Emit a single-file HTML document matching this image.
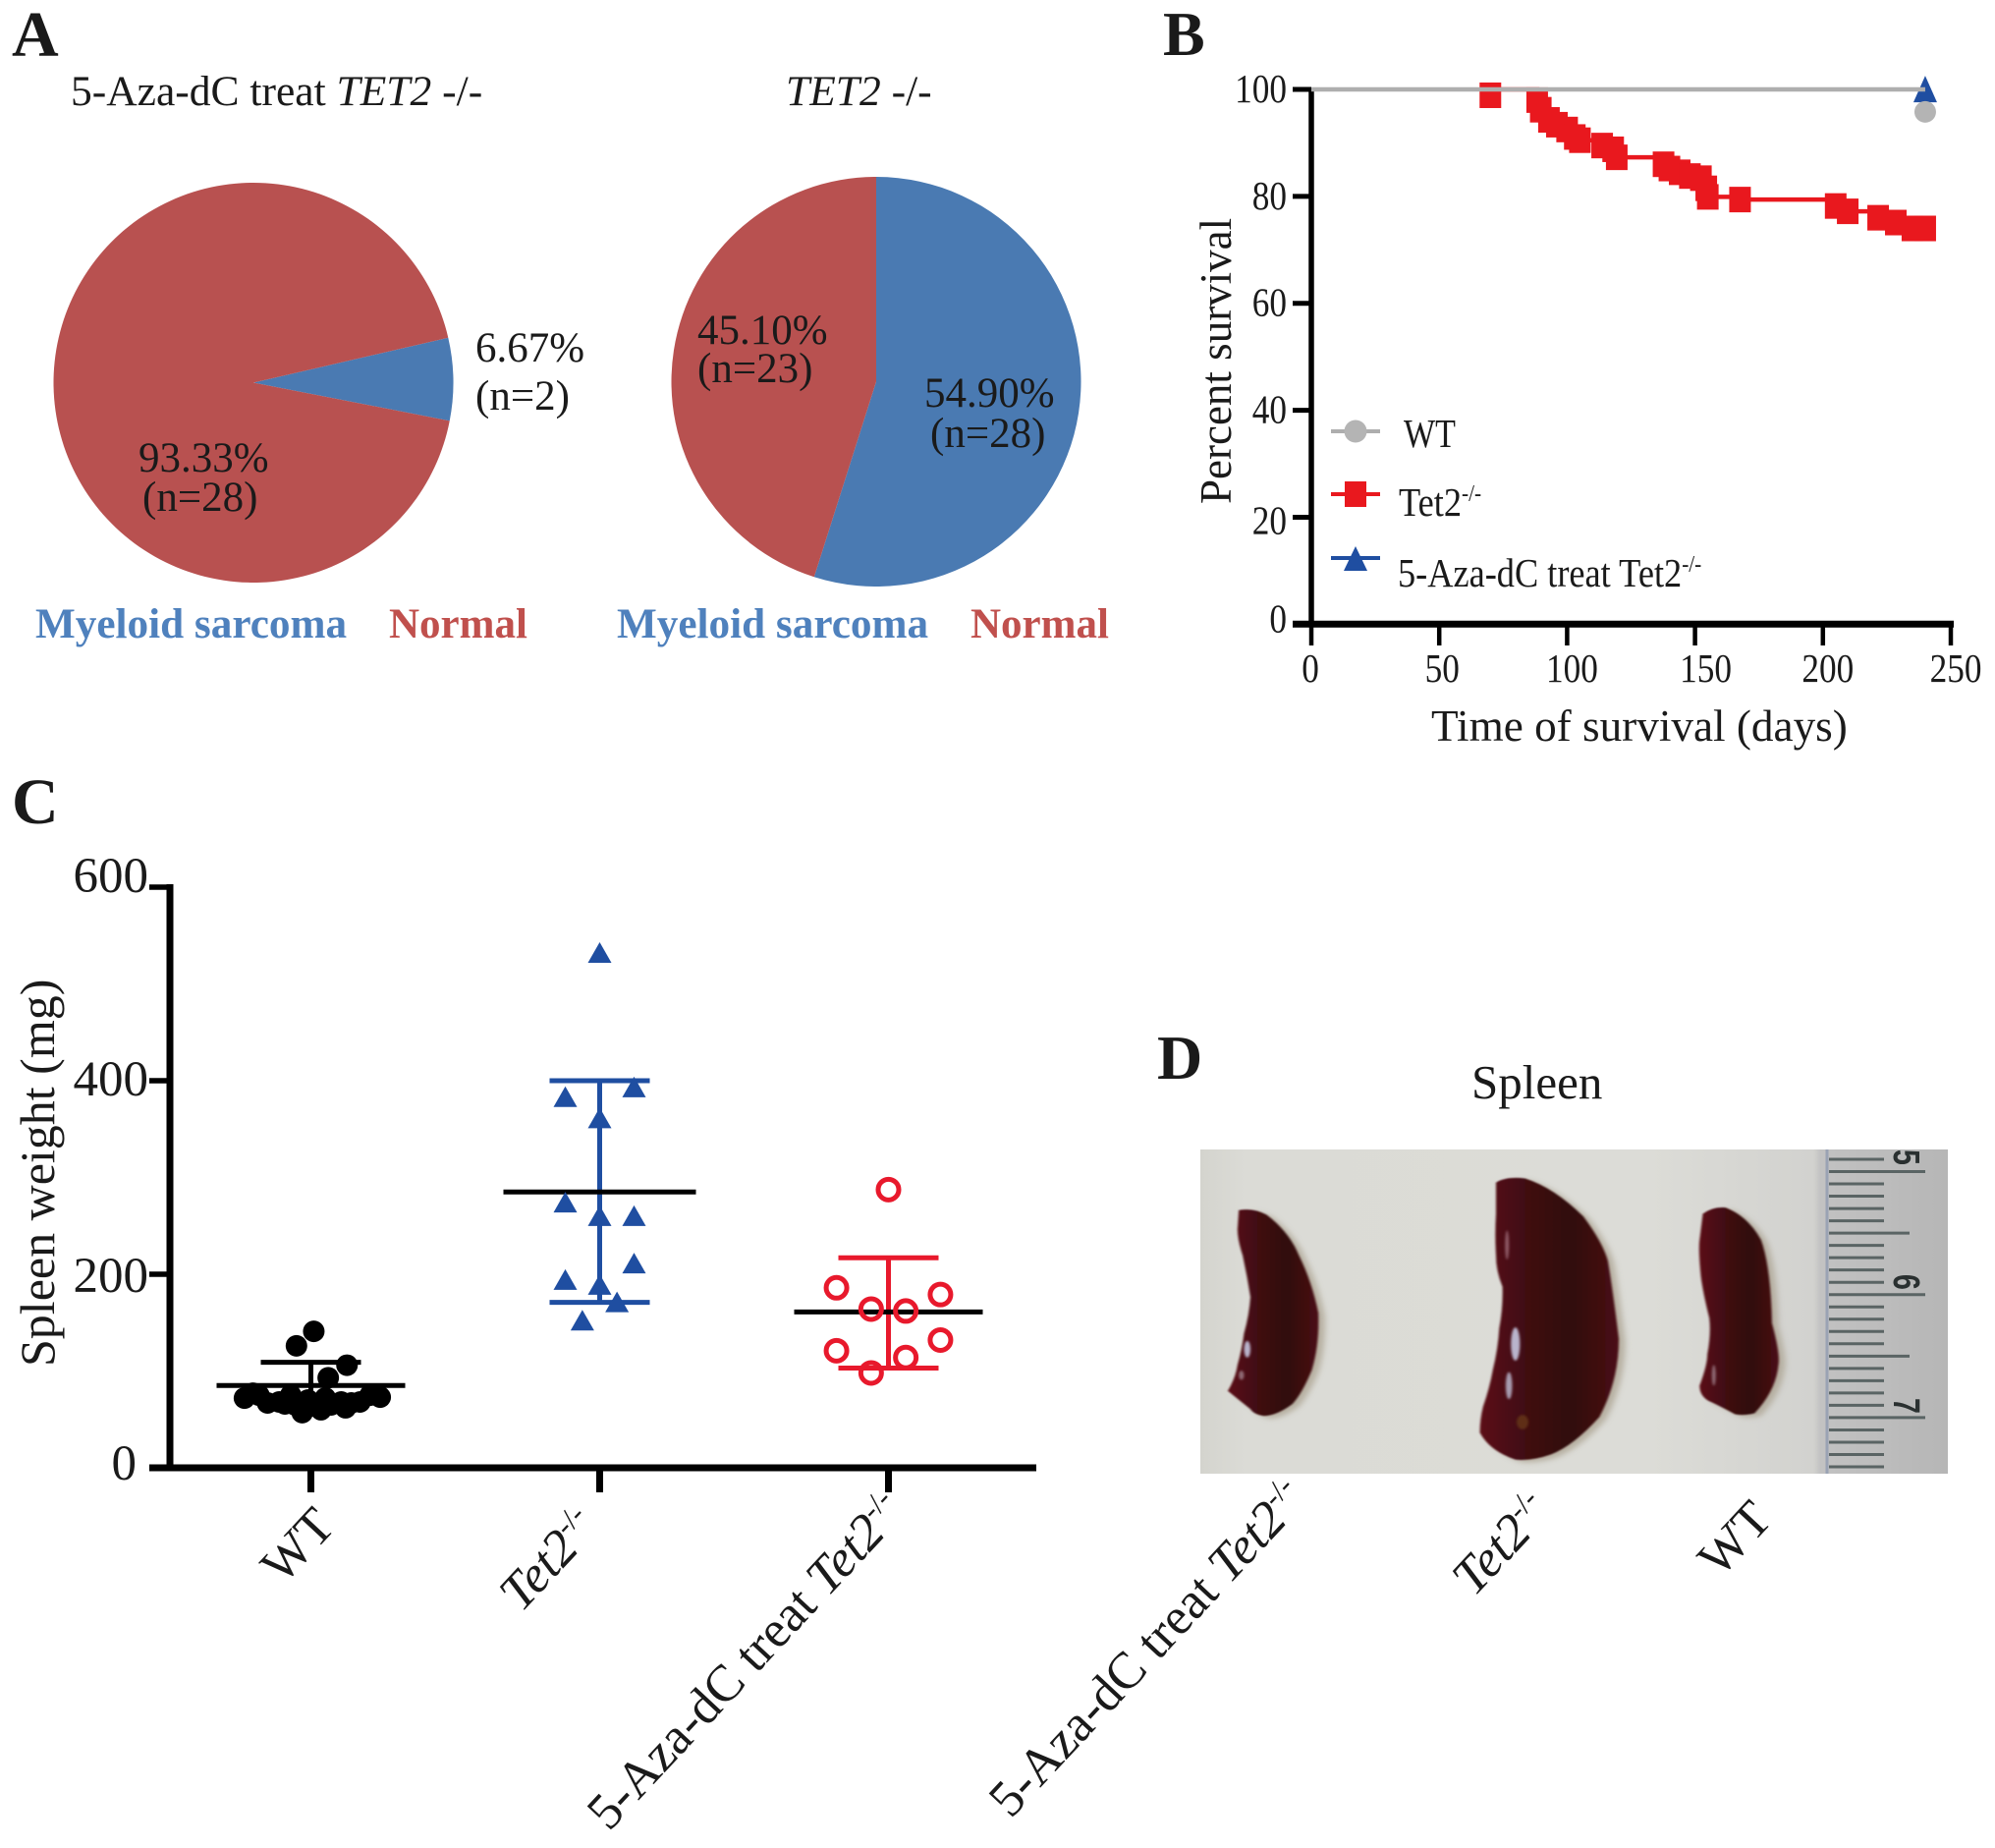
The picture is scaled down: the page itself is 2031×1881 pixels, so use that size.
<!DOCTYPE html>
<html>
<head>
<meta charset="utf-8">
<title>Multi-panel figure</title>
<style>
html,body{margin:0;padding:0;background:#fff;}
svg{display:block;}
text{font-family:"Liberation Serif",serif;fill:#1a1a1a;}
</style>
</head>
<body>
<svg id="figure" xmlns="http://www.w3.org/2000/svg" width="2031" height="1881" viewBox="0 0 2031 1881">
<defs>
<linearGradient id="photoBg" x1="0" y1="0" x2="1" y2="0">
<stop offset="0" stop-color="#d4d4ce"/>
<stop offset="0.06" stop-color="#dbdbd6"/>
<stop offset="0.6" stop-color="#dcdcd7"/>
<stop offset="0.82" stop-color="#d2d2cf"/>
<stop offset="0.83" stop-color="#c2c2c2"/>
<stop offset="1" stop-color="#b6b6b6"/>
</linearGradient>
<linearGradient id="organ" x1="0" y1="0" x2="1" y2="0">
<stop offset="0" stop-color="#5c1019"/>
<stop offset="0.3" stop-color="#420b12"/>
<stop offset="0.65" stop-color="#30070b"/>
<stop offset="1" stop-color="#4a0e14"/>
</linearGradient>
<filter id="soft" x="-20%" y="-20%" width="140%" height="140%"><feGaussianBlur stdDeviation="5"/></filter>
<filter id="edge" x="-10%" y="-10%" width="120%" height="120%"><feGaussianBlur stdDeviation="1.5"/></filter>
<filter id="softer" x="-50%" y="-50%" width="200%" height="200%"><feGaussianBlur stdDeviation="2"/></filter>
</defs>
<rect x="0" y="0" width="2031" height="1881" fill="#ffffff"/>

<!-- panel letters -->
<text x="12" y="57" font-size="66" font-weight="bold" fill="#000">A</text>
<text x="1184" y="56" font-size="64" font-weight="bold" fill="#000">B</text>
<text x="12" y="838" font-size="66" font-weight="bold" fill="#000">C</text>
<text x="1178" y="1098" font-size="64" font-weight="bold" fill="#000">D</text>

<!-- panel A -->
<g id="pies"></g>
<text x="72" y="107" font-size="43.5">5-Aza-dC treat <tspan font-style="italic">TET2</tspan> -/-</text>
<text x="800" y="107" font-size="43.5"><tspan font-style="italic">TET2</tspan> -/-</text>
<text x="141" y="480" font-size="43">93.33%</text>
<text x="145" y="520" font-size="43">(n=28)</text>
<text x="484" y="368" font-size="43">6.67%</text>
<text x="484" y="417" font-size="43">(n=2)</text>
<text x="710" y="350" font-size="43">45.10%</text>
<text x="710" y="389" font-size="43">(n=23)</text>
<text x="941" y="414" font-size="43">54.90%</text>
<text x="947" y="455" font-size="43">(n=28)</text>
<text x="36" y="649" font-size="43.2" font-weight="bold" style="fill:#4f81bd">Myeloid sarcoma</text>
<text x="396" y="649" font-size="43" font-weight="bold" style="fill:#c0504d">Normal</text>
<text x="628" y="649" font-size="43.2" font-weight="bold" style="fill:#4f81bd">Myeloid sarcoma</text>
<text x="988" y="649" font-size="43" font-weight="bold" style="fill:#c0504d">Normal</text>

<!-- panel B -->
<g id="survival"></g>
<text x="1457" y="754" font-size="45.2">Time of survival (days)</text>
<text transform="translate(1253,513) rotate(-90)" font-size="45">Percent survival</text>
<g>
<line x1="1355" x2="1405" y1="439" y2="439" stroke="#aeaeae" stroke-width="4"/>
<circle cx="1380" cy="439" r="11.5" fill="#b4b4b4"/>
<text transform="translate(1429,455) scale(.83,1)" font-size="41">WT</text>
<line x1="1355" x2="1405" y1="503" y2="503" stroke="#e9181e" stroke-width="4"/>
<rect x="1369" y="490" width="22" height="26" fill="#e9181e"/>
<text transform="translate(1424,525) scale(.886,1)" font-size="41">Tet2<tspan font-size="24" dy="-15">-/-</tspan></text>
<line x1="1355" x2="1405" y1="568" y2="568" stroke="#1f4ea1" stroke-width="4"/>
<polygon points="1380,556 1368,581 1392,581" fill="#1f4ea1"/>
<text transform="translate(1423,597) scale(.886,1)" font-size="41">5-Aza-dC treat Tet2<tspan font-size="24" dy="-15">-/-</tspan></text>
</g>

<!-- panel C -->
<g id="spleenweight"></g>
<text transform="translate(55,1391) rotate(-90)" font-size="50">Spleen weight (mg)</text>
<text transform="translate(343,1555) rotate(-47)" text-anchor="end" font-size="52">WT</text>
<text transform="translate(611,1556) rotate(-47)" text-anchor="end" font-size="52.5"><tspan font-style="italic">Tet2</tspan><tspan font-size="31" dy="-19">-/-</tspan></text>
<text transform="translate(923,1540) rotate(-47)" text-anchor="end" font-size="52.5">5-Aza-dC treat <tspan font-style="italic">Tet2</tspan><tspan font-size="31" dy="-19">-/-</tspan></text>

<!-- panel D -->
<text x="1498" y="1118" font-size="49">Spleen</text>
<g>
<rect x="1222" y="1170" width="761" height="330" fill="url(#photoBg)"/>
<line x1="1860" x2="1860" y1="1170" y2="1500" stroke="#9aa3b4" stroke-width="3"/>
<g id="ruler"></g>
<g>
<text transform="translate(1928,1170) rotate(90) scale(.75,1)" font-size="38" font-weight="bold" style="fill:#2a3030;font-family:'Liberation Sans',sans-serif">5</text>
<text transform="translate(1928,1297) rotate(90) scale(.75,1)" font-size="38" font-weight="bold" style="fill:#2a3030;font-family:'Liberation Sans',sans-serif">6</text>
<text transform="translate(1928,1423) rotate(90) scale(.75,1)" font-size="38" font-weight="bold" style="fill:#2a3030;font-family:'Liberation Sans',sans-serif">7</text>
</g>
<g transform="translate(1000,1050) scale(0.6579,0.53)">
<path filter="url(#soft)" opacity=".7" fill="#a89f8c" transform="translate(10,5)" d="M397,343 Q420,338 440,352 Q475,385 490,430 Q510,480 520,540 Q522,600 510,650 Q495,695 480,715 Q455,738 435,738 Q420,735 415,725 L380,690 Q392,665 395,640 Q402,610 405,580 Q413,545 415,510 Q410,470 403,430 Q395,400 395,380 Z"/>
<path filter="url(#edge)" fill="url(#organ)" d="M397,343 Q420,338 440,352 Q475,385 490,430 Q510,480 520,540 Q522,600 510,650 Q495,695 480,715 Q455,738 435,738 Q420,735 415,725 L380,690 Q392,665 395,640 Q402,610 405,580 Q413,545 415,510 Q410,470 403,430 Q395,400 395,380 Z"/>
<path filter="url(#soft)" opacity=".7" fill="#a89f8c" transform="translate(10,5)" d="M795,290 Q810,278 840,282 Q885,300 930,355 Q960,405 968,440 Q975,490 985,590 Q985,670 955,740 Q915,795 880,812 Q850,825 825,822 Q785,805 770,770 Q770,745 775,720 Q785,685 790,650 Q798,610 800,570 Q806,530 805,490 Q795,460 795,430 Q793,390 795,350 Z"/>
<path filter="url(#edge)" fill="url(#organ)" d="M795,290 Q810,278 840,282 Q885,300 930,355 Q960,405 968,440 Q975,490 985,590 Q985,670 955,740 Q915,795 880,812 Q850,825 825,822 Q785,805 770,770 Q770,745 775,720 Q785,685 790,650 Q798,610 800,570 Q806,530 805,490 Q795,460 795,430 Q793,390 795,350 Z"/>
<path filter="url(#soft)" opacity=".7" fill="#a89f8c" transform="translate(10,5)" d="M1115,350 Q1130,336 1150,338 Q1185,355 1205,400 Q1220,450 1222,560 Q1235,620 1232,640 Q1228,690 1195,733 Q1180,738 1165,735 Q1135,715 1125,710 Q1110,700 1110,680 Q1122,640 1122,620 Q1128,580 1125,550 Q1115,500 1112,470 Q1108,420 1110,400 Z"/>
<path filter="url(#edge)" fill="url(#organ)" d="M1115,350 Q1130,336 1150,338 Q1185,355 1205,400 Q1220,450 1222,560 Q1235,620 1232,640 Q1228,690 1195,733 Q1180,738 1165,735 Q1135,715 1125,710 Q1110,700 1110,680 Q1122,640 1122,620 Q1128,580 1125,550 Q1115,500 1112,470 Q1108,420 1110,400 Z"/>
<g filter="url(#softer)">
<ellipse cx="825" cy="600" rx="7" ry="32" fill="#b9b4cc"/>
<ellipse cx="815" cy="680" rx="5" ry="26" fill="#a89cb0"/>
<ellipse cx="812" cy="410" rx="3" ry="28" fill="#8f5a66"/>
<ellipse cx="836" cy="750" rx="9" ry="14" fill="#5e2e14"/>
<ellipse cx="410" cy="610" rx="5" ry="16" fill="#b9b4cc"/>
<ellipse cx="401" cy="660" rx="4" ry="9" fill="#8f6a74"/>
<ellipse cx="1132" cy="660" rx="3" ry="20" fill="#8f6a74"/>
</g>
</g>
</g>
<text transform="translate(1332,1527) rotate(-47)" text-anchor="end" font-size="52.5">5-Aza-dC treat <tspan font-style="italic">Tet2</tspan><tspan font-size="31" dy="-19">-/-</tspan></text>
<text transform="translate(1581,1540) rotate(-47)" text-anchor="end" font-size="52.5"><tspan font-style="italic">Tet2</tspan><tspan font-size="31" dy="-19">-/-</tspan></text>
<text transform="translate(1806,1548) rotate(-47)" text-anchor="end" font-size="52">WT</text>

<script>
// ---------- Panel A data ----------
const pieCategories = ['Myeloid sarcoma', 'Normal'];
const treatedPieValues = [6.67, 93.33];
const tet2PieValues = [54.90, 45.10];

// ---------- Panel B data ----------
const survivalXTicks = [0, 50, 100, 150, 200, 250];
const survivalYTicks = [0, 20, 40, 60, 80, 100];
const wtDays = [0, 240];
const wtSurvival = [100, 100];
const wtCensorDay = [240];
const wtCensorSurvival = [95.8];
const treatedCensorDay = [240];
const treatedCensorSurvival = [99.8];
const tet2Days = [70, 88.3, 89.7, 92.9, 96, 100, 103, 105, 113.7, 118, 119.4, 137.7, 140, 144, 148, 152.3, 154.4, 155, 167.6, 205, 209.7, 221.6, 228.5, 235, 240];
const tet2Survival = [98.9, 98, 96.2, 94.3, 93.4, 92.5, 91.1, 90.5, 89.5, 88.8, 87.3, 86, 85.2, 84.5, 83.8, 83.4, 81.5, 79.9, 79.4, 78.2, 77.2, 76, 75.1, 74, 74];

// ---------- Panel C data ----------
const weightYTicks = [0, 200, 400, 600];
const weightGroups = ['WT', 'Tet2-/-', '5-Aza-dC treat Tet2-/-'];
const wtWeights = [141, 126, 106, 93, 72, 73, 77, 75, 67, 68, 75, 65, 57, 60, 65, 68, 67, 68, 75, 70, 64, 66, 72, 62];
const wtJitter = [0.01, -0.05, 0.125, 0.06, -0.23, 0.24, -0.2, -0.18, -0.15, -0.11, -0.07, -0.055, -0.03, 0.035, 0.07, 0.105, 0.14, 0.17, 0.205, -0.01, 0.01, -0.09, 0.05, 0.12];
const tet2Weights = [532, 393, 383, 361, 274, 260, 260, 211, 194, 189, 171, 152];
const tet2Jitter = [0, 0.119, -0.119, 0, -0.119, 0, 0.119, 0.119, -0.119, 0, 0.06, -0.06];
const treatedWeights = [287.5, 186, 179, 164, 162, 132, 121, 114, 98];
const treatedJitter = [0, -0.18, 0.18, -0.06, 0.06, 0.18, -0.18, 0.06, -0.06];
const groupMeans = [85, 285, 161];
const groupUpper = [109, 400, 217];
const groupLower = [61, 171, 103];

// ---------- Helpers ----------
const NS = 'http://www.w3.org/2000/svg';
function svgEl(parent, tag, attrs) {
  const el = document.createElementNS(NS, tag);
  for (const k in attrs) el.setAttribute(k, attrs[k]);
  parent.appendChild(el);
  return el;
}

// ---------- Pie charts ----------
const pieColors = ['#4a7ab2', '#b85150'];
const piesGroup = document.getElementById('pies');
function drawPie(values, cx, cy, r, startDeg, label) {
  const total = values.reduce(function (a, b) { return a + b; }, 0);
  let a0 = startDeg;
  values.forEach(function (v, i) {
    const a1 = a0 + v / total * 360;
    const p = function (deg) {
      const t = (deg - 90) * Math.PI / 180;
      return [cx + r * Math.cos(t), cy + r * Math.sin(t)];
    };
    const s = p(a0), e = p(a1);
    const large = a1 - a0 > 180 ? 1 : 0;
    const slice = svgEl(piesGroup, 'path', {
      d: 'M' + cx + ',' + cy + 'L' + s[0] + ',' + s[1] + 'A' + r + ',' + r + ' 0 ' + large + ' 1 ' + e[0] + ',' + e[1] + 'Z',
      fill: pieColors[i]
    });
    
    
    slice.setAttribute('aria-label', label + ' ' + pieCategories[i]);
    a0 = a1;
  });
}
drawPie(treatedPieValues, 258, 389.5, 203.5, 89 - treatedPieValues[0] / 100 * 180, 'treated');
drawPie(tet2PieValues, 892, 388.5, 208.5, 0, 'tet2');

// ---------- Survival chart ----------
const survivalGroup = document.getElementById('survival');
const bx = function (d) { return 1335 + d * 2.604; };
const by = function (p) { return 635.3 - p * 5.443; };

const bYAxis = svgEl(survivalGroup, 'line', { x1: bx(0), x2: bx(0), y1: by(100) - 2, y2: by(0), stroke: '#000', 'stroke-width': 5.5 });


const bXAxis = svgEl(survivalGroup, 'line', { x1: 1316, x2: bx(250) + 3, y1: by(0), y2: by(0), stroke: '#000', 'stroke-width': 7 });



survivalYTicks.forEach(function (v) {
  const tick = svgEl(survivalGroup, 'line', { x1: 1316, x2: bx(0), y1: by(v), y2: by(v), stroke: '#000', 'stroke-width': 5 });
  
  
  const shift = v === 0 ? 8 : (v === 20 ? 17 : 13);
  const lab = svgEl(survivalGroup, 'text', { transform: 'translate(1310,' + (by(v) + shift) + ') scale(.86,1)', 'text-anchor': 'end', 'font-size': 41 });
  
  
  lab.textContent = v;
});
survivalXTicks.forEach(function (v) {
  const tick = svgEl(survivalGroup, 'line', { x1: bx(v), x2: bx(v), y1: by(0), y2: 657, stroke: '#000', 'stroke-width': 4.5 });
  
  
  const shift = v === 0 ? -1 : (v === 50 ? 3 : (v === 150 ? 11 : 5));
  const lab = svgEl(survivalGroup, 'text', { transform: 'translate(' + (bx(v) + shift) + ',694) scale(.86,1)', 'text-anchor': 'middle', 'font-size': 41 });
  
  
  lab.textContent = v;
});

treatedCensorDay.forEach(function (d, i) {
  const x = bx(d), y = by(treatedCensorSurvival[i]);
  const tri = svgEl(survivalGroup, 'polygon', { points: x + ',' + (y - 15) + ' ' + (x - 12) + ',' + (y + 12) + ' ' + (x + 12) + ',' + (y + 12), fill: '#1f4ea1' });
  
  
});
let stepD = 'M' + bx(tet2Days[0]) + ',' + by(100);
tet2Days.forEach(function (d, i) {
  if (i > 0) stepD += 'H' + bx(d) + 'V' + by(tet2Survival[i]);
});
const tet2Line = svgEl(survivalGroup, 'path', { d: stepD, fill: 'none', stroke: '#e9181e', 'stroke-width': 4.5 });


tet2Days.forEach(function (d, i) {
  const sq = svgEl(survivalGroup, 'rect', { x: bx(d) - 11, y: by(tet2Survival[i]) - 13, width: 22, height: 26, fill: '#e9181e' });
  
  
});
const wtLine = svgEl(survivalGroup, 'path', { d: 'M' + wtDays.map(function (d, i) { return bx(d) + ',' + by(wtSurvival[i]); }).join('L'), fill: 'none', stroke: '#aeaeae', 'stroke-width': 4.5 });


wtCensorDay.forEach(function (d, i) {
  const c = svgEl(survivalGroup, 'circle', { cx: bx(d), cy: by(wtCensorSurvival[i]), r: 11, fill: '#b4b4b4' });
  
  
});

// ---------- Spleen weight chart ----------
const weightGroup = document.getElementById('spleenweight');
const cx = function (c) { return 316.5 + c * 294; };
const cy = function (v) { return 1494 - v * 0.985; };

const cYAxis = svgEl(weightGroup, 'line', { x1: 173, x2: 173, y1: cy(600) - 3, y2: cy(0), stroke: '#000', 'stroke-width': 7 });


const cXAxis = svgEl(weightGroup, 'line', { x1: 152, x2: 1055, y1: cy(0), y2: cy(0), stroke: '#000', 'stroke-width': 7 });



weightYTicks.forEach(function (v) {
  const tick = svgEl(weightGroup, 'line', { x1: 152, x2: 173, y1: cy(v), y2: cy(v), stroke: '#000', 'stroke-width': 5.5 });
  
  
  const shift = v === 600 ? 5 : (v === 0 ? 12 : (v === 200 ? 18 : 15));
  const lab = svgEl(weightGroup, 'text', { x: v === 0 ? 139 : 151, y: cy(v) + shift, 'text-anchor': 'end', 'font-size': 51 });
  
  
  lab.textContent = v;
});
weightGroups.forEach(function (g, i) {
  const tick = svgEl(weightGroup, 'line', { x1: cx(i), x2: cx(i), y1: cy(0), y2: 1519, stroke: '#000', 'stroke-width': 7 });
  
  
});

function drawErrorBar(i, color) {
  const x = cx(i);
  const stem = svgEl(weightGroup, 'line', { x1: x, x2: x, y1: cy(groupUpper[i]), y2: cy(groupLower[i]), stroke: color, 'stroke-width': 5 });
  
  
  const capU = svgEl(weightGroup, 'line', { x1: x - 51, x2: x + 51, y1: cy(groupUpper[i]), y2: cy(groupUpper[i]), stroke: color, 'stroke-width': 5 });
  
  
  const capL = svgEl(weightGroup, 'line', { x1: x - 51, x2: x + 51, y1: cy(groupLower[i]), y2: cy(groupLower[i]), stroke: color, 'stroke-width': 5 });
  
  
}
function drawMean(i) {
  const half = i === 1 ? 98 : 96;
  const m = svgEl(weightGroup, 'line', { x1: cx(i) - half, x2: cx(i) + half, y1: cy(groupMeans[i]), y2: cy(groupMeans[i]), stroke: '#000', 'stroke-width': 5 });
  
  
}

drawErrorBar(0, '#000');
drawMean(0);
wtWeights.forEach(function (v, k) {
  const c = svgEl(weightGroup, 'circle', { cx: cx(0 + wtJitter[k]), cy: cy(v), r: 11, fill: '#000' });
  
  
});

drawErrorBar(1, '#1f4ea1');
drawMean(1);
tet2Weights.forEach(function (v, k) {
  const x = cx(1 + tet2Jitter[k]), y = cy(v);
  const t = svgEl(weightGroup, 'polygon', { points: x + ',' + (y - 11) + ' ' + (x - 12) + ',' + (y + 10) + ' ' + (x + 12) + ',' + (y + 10), fill: '#1f4ea1' });
  
  
});

drawErrorBar(2, '#e8192c');
drawMean(2);
treatedWeights.forEach(function (v, k) {
  const c = svgEl(weightGroup, 'circle', { cx: cx(2 + treatedJitter[k]), cy: cy(v), r: 10.5, fill: 'none', stroke: '#e8192c', 'stroke-width': 5 });
  
  
});

// ---------- Ruler ----------
const rulerGroup = document.getElementById('ruler');
for (let i = 0; i < 26; i++) {
  const y = 1180 + i * 12.52;
  let end = 1918;
  if ((i - 1) % 10 === 0) end = 1960;
  else if ((i - 1) % 5 === 0) end = 1944;
  const tick = svgEl(rulerGroup, 'line', { x1: 1862, x2: end, y1: y, y2: y, stroke: '#5a6464', 'stroke-width': 3 });
  
  
}
</script>
</svg>
</body>
</html>
